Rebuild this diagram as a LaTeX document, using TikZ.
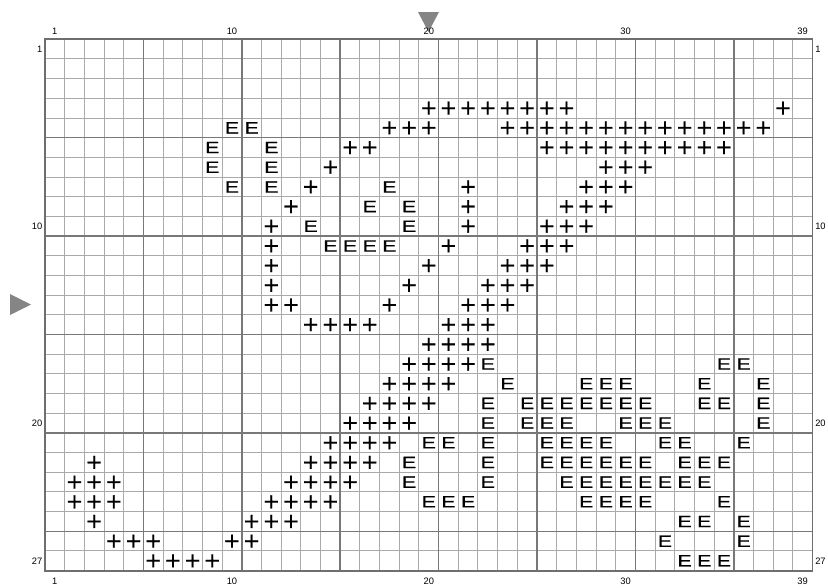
\documentclass[tikz,border=0pt]{standalone}
\usepackage{fontspec}
\setmainfont{Liberation Sans}
\newfontfamily\plusfont[FakeBold=0.6]{DejaVu Sans}
\newfontfamily\efont[FakeBold=0.5]{Liberation Sans}
\definecolor{thinline}{RGB}{170,170,170}
\definecolor{thickline}{RGB}{120,120,120}
\definecolor{borderline}{RGB}{110,110,110}
\definecolor{markgray}{RGB}{133,133,133}
\begin{document}
\begin{tikzpicture}[x=0.75pt,y=-0.75pt,
  thinrule/.style={draw=thinline,line width=0.75pt},
  thickrule/.style={draw=thickline,line width=1.1pt},
  frame/.style={draw=borderline,line width=1.4pt},
  lbl/.style={font=\fontsize{7}{8}\selectfont,inner sep=0pt},
  plussym/.style={font=\plusfont\fontsize{15.5}{16}\selectfont,inner sep=0pt},
  esym/.style={font=\efont\fontsize{12.3}{13}\selectfont,inner sep=0pt},
  pointer/.style={fill=markgray,draw=none}]
\useasboundingbox (0,0) rectangle (828,587);
% grid
\foreach \c in {1,...,38} \draw[thinrule] ({45+\c*19.68},39.3) -- ({45+\c*19.68},570.7);
\foreach \r in {1,...,26} \draw[thinrule] (45,{39.3+\r*19.68}) -- (812.5,{39.3+\r*19.68});
\foreach \c in {5,10,...,35} \draw[thickrule] ({45+\c*19.68},39.3) -- ({45+\c*19.68},570.7);
\foreach \r in {5,10,...,25} \draw[thickrule] (45,{39.3+\r*19.68}) -- (812.5,{39.3+\r*19.68});
\draw[frame] (45,39.3) rectangle (812.5,570.7);
% pointers
\fill[pointer] (418,12) -- (439,12) -- (428.5,32) -- cycle;
\fill[pointer] (10,294) -- (10,315) -- (31,304.5) -- cycle;
% column and row numbers
\foreach \c in {1,10,20,30,39} {
  \node[lbl] (top\c) at ({45+(\c-0.5)*19.68},31.5) {\c};
  \node[lbl] (bot\c) at ({45+(\c-0.5)*19.68},581.5) {\c};
}
\foreach \r in {1,10,20,27} {
  \node[lbl,anchor=east] (lft\r) at (42.5,{39.3+(\r-0.5)*19.68}) {\r};
  \node[lbl,anchor=west] (rgt\r) at (815,{39.3+(\r-0.5)*19.68}) {\r};
}
% plus stitches
\foreach \r/\cl in {
  4/{20,21,22,23,24,25,26,27,38},
  5/{18,19,20,24,25,26,27,28,29,30,31,32,33,34,35,36,37},
  6/{16,17,26,27,28,29,30,31,32,33,34,35},
  7/{15,29,30,31},
  8/{14,22,28,29,30},
  9/{13,22,27,28,29},
  10/{12,22,26,27,28},
  11/{12,21,25,26,27},
  12/{12,20,24,25,26},
  13/{12,19,23,24,25},
  14/{12,13,18,22,23,24},
  15/{14,15,16,17,21,22,23},
  16/{20,21,22,23},
  17/{19,20,21,22},
  18/{18,19,20,21},
  19/{17,18,19,20},
  20/{16,17,18,19},
  21/{15,16,17,18},
  22/{3,14,15,16,17},
  23/{2,3,4,13,14,15,16},
  24/{2,3,4,12,13,14,15},
  25/{3,11,12,13},
  26/{4,5,6,10,11},
  27/{6,7,8,9}} {
  \foreach \c in \cl
    \node[plussym] (p-\r-\c) at ({45+(\c-0.5)*19.68},{39.3+(\r-0.5)*19.68}) {+};
}
% E stitches
\foreach \r/\cl in {
  5/{10,11},
  6/{9,12},
  7/{9,12},
  8/{10,12,18},
  9/{17,19},
  10/{14,19},
  11/{15,16,17,18},
  17/{23,35,36},
  18/{24,28,29,30,34,37},
  19/{23,25,26,27,28,29,30,31,34,35,37},
  20/{23,25,26,27,30,31,32,37},
  21/{20,21,23,26,27,28,29,32,33,36},
  22/{19,23,26,27,28,29,30,31,33,34,35},
  23/{19,23,27,28,29,30,31,32,33,34},
  24/{20,21,22,28,29,30,31,35},
  25/{33,34,36},
  26/{32,36},
  27/{33,34,35}} {
  \foreach \c in \cl
    \node[esym] (e-\r-\c) at ({45+(\c-0.5)*19.68},{39.3+(\r-0.5)*19.68}) {\scalebox{1.3}[1]{E}};
}
\end{tikzpicture}
\end{document}
